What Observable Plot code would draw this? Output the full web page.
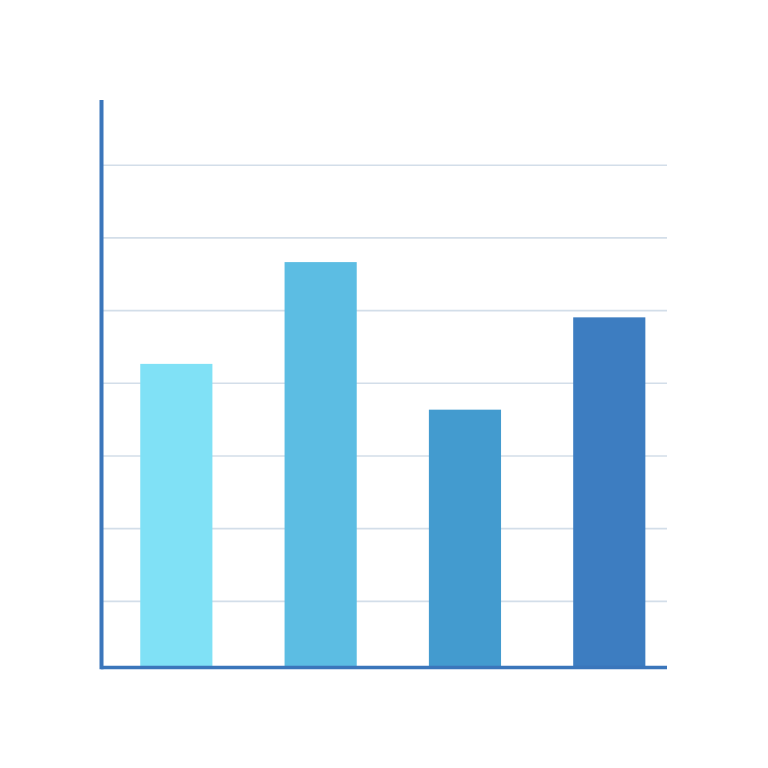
<!DOCTYPE html>
<html>
<head>
<meta charset="utf-8">
<script src="https://cdn.jsdelivr.net/npm/d3@7"></script>
<script src="https://cdn.jsdelivr.net/npm/@observablehq/plot@0.6"></script>
<style>
  html, body { margin: 0; padding: 0; background: #ffffff; }
  #chart { width: 768px; height: 768px; }
</style>
</head>
<body>
<div id="chart"></div>
<script>
// Data
const categories = ["A", "B", "C", "D"];
const values = [4.26, 5.66, 3.63, 4.90];
const colors = ["#80e1f6", "#5cbde3", "#439bcf", "#3d7dc1"];
const gridValues = [1, 2, 3, 4, 5, 6, 7];
const baseline = 0.09;
const axisBottom = 0.06;

const bars = categories.map((c, i) => ({category: c, index: i, value: values[i], color: colors[i]}));

const chart = Plot.plot({
  width: 768,
  height: 768,
  marginLeft: 101,
  marginRight: 101,
  marginTop: 100,
  marginBottom: 101,
  style: {background: "#ffffff"},
  x: {type: "linear", domain: [-0.522, 3.40], axis: null},
  y: {type: "linear", domain: [baseline, 7.89], axis: null},
  marks: [
    Plot.ruleY(gridValues, {y: d => d, stroke: "#d3dee9", strokeWidth: 1.6}),
    Plot.rectY(bars, {
      x1: d => d.index - 0.25,
      x2: d => d.index + 0.25,
      y1: baseline,
      y2: "value",
      fill: "color"
    }),
    Plot.ruleY([baseline], {y: d => d, stroke: "#3b76bb", strokeWidth: 3.5}),
    Plot.ruleX([-0.522], {x: d => d, y1: axisBottom, y2: 7.89, stroke: "#3b76bb", strokeWidth: 4})
  ]
});
document.getElementById("chart").appendChild(chart);
</script>
</body>
</html>
